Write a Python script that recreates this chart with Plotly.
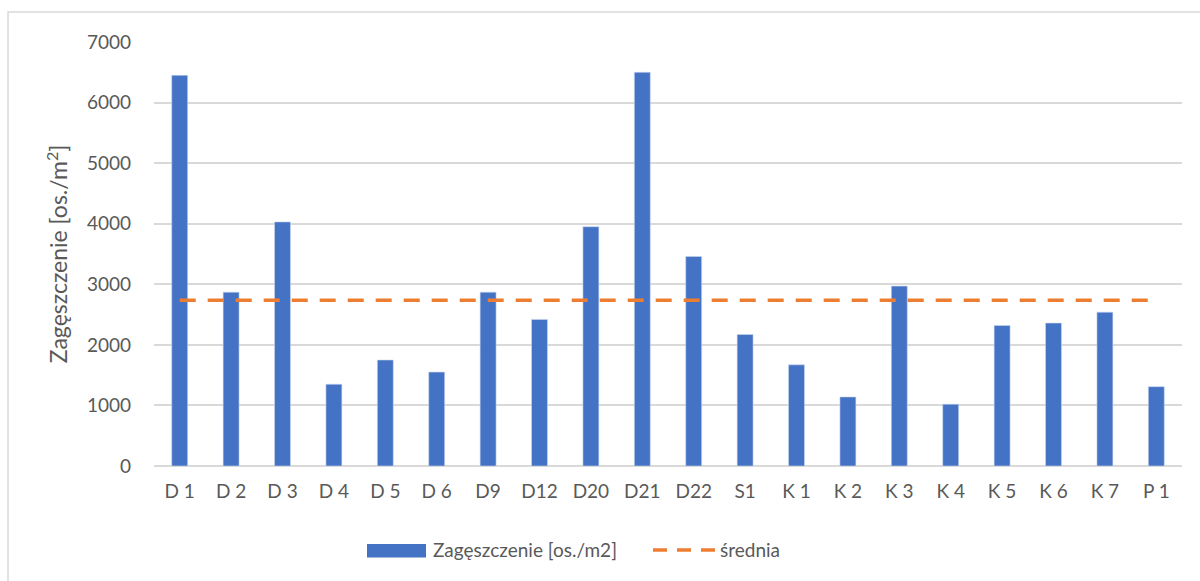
import plotly.graph_objects as go

# Sampling sites and measured density (individuals per m2)
sites = ["D 1", "D 2", "D 3", "D 4", "D 5", "D 6", "D9", "D12", "D20", "D21",
         "D22", "S1", "K 1", "K 2", "K 3", "K 4", "K 5", "K 6", "K 7", "P 1"]
density = [6450, 2870, 4030, 1350, 1750, 1550, 2870, 2420, 3950, 6500,
           3460, 2170, 1670, 1140, 2970, 1020, 2320, 2360, 2540, 1310]
mean_value = 2735
y_ticks = [0, 1000, 2000, 3000, 4000, 5000, 6000, 7000]

BAR_NAME = "Zagęszczenie [os./m2]"
MEAN_NAME = "średnia"

BLUE = "#4472C4"
ORANGE = "#ED7D31"
GREY_TEXT = "#595959"
GRID = "#D9D9D9"
FONT = "Lato"

fig = go.Figure()
fig.add_trace(go.Bar(
    x=sites, y=density, name=BAR_NAME, showlegend=False,
    marker=dict(color=BLUE, line=dict(color="#C9D6EE", width=0.6)),
))
fig.add_trace(go.Scatter(
    x=sites, y=[mean_value] * len(sites), name=MEAN_NAME, mode="lines",
    showlegend=False,
    line=dict(color=ORANGE, width=3.5, dash="16px,12px"),
))

shapes = [
    # outer chart frame
    dict(type="rect", xref="paper", yref="paper",
         x0=-0.142, x1=1.03, y0=-0.35, y1=1.071,
         line=dict(color="#D9D9D9", width=1.5), fillcolor="rgba(0,0,0,0)",
         layer="below"),
    # legend key: bar series
    dict(type="rect", xref="paper", yref="paper",
         x0=0.2072, x1=0.2646, y0=-0.2158, y1=-0.184,
         line=dict(width=0), fillcolor=BLUE),
    # legend key: mean line
    dict(type="line", xref="paper", yref="paper",
         x0=0.4854, x1=0.5457, y0=-0.198, y1=-0.198,
         line=dict(color=ORANGE, width=3.5, dash="14px,10px")),
]

annotations = [
    dict(text=BAR_NAME, xref="paper", yref="paper", x=0.2695, y=-0.198,
         xanchor="left", yanchor="middle", showarrow=False,
         font=dict(family=FONT, size=19, color=GREY_TEXT)),
    dict(text=MEAN_NAME, xref="paper", yref="paper", x=0.5486, y=-0.198,
         xanchor="left", yanchor="middle", showarrow=False,
         font=dict(family=FONT, size=19, color=GREY_TEXT)),
]

fig.update_layout(
    width=1200, height=581,
    margin=dict(l=154, r=18, t=42, b=115),
    paper_bgcolor="white", plot_bgcolor="white",
    bargap=0.69,
    font=dict(family=FONT, size=19, color=GREY_TEXT),
    shapes=shapes,
    annotations=annotations,
    xaxis=dict(showgrid=False, showline=False, ticks="", tickfont=dict(size=19),
               ticklabelstandoff=12),
    yaxis=dict(range=[0, 7000], tickvals=y_ticks, showgrid=True, gridcolor=GRID,
               gridwidth=1.5, zeroline=True, zerolinecolor=GRID, zerolinewidth=1.5,
               showline=False, ticks="", ticklabelstandoff=22,
               tickfont=dict(size=19),
               title=dict(text="Zagęszczenie [os./m<sup>2</sup>]", standoff=12,
                          font=dict(size=23))),
)

fig.write_html("out.html")
